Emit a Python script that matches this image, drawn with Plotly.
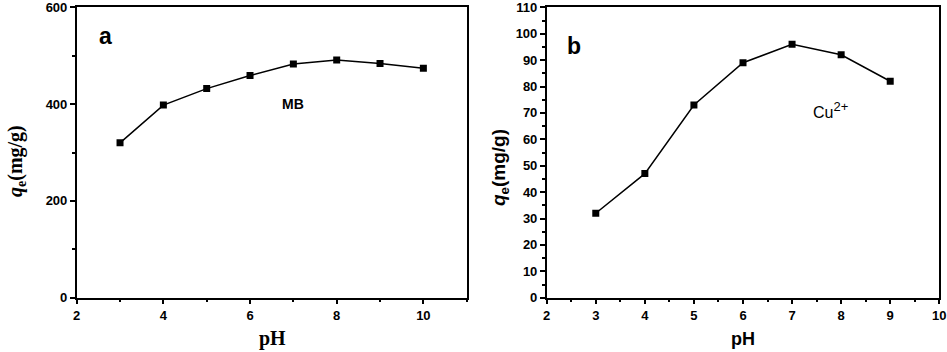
import plotly.graph_objects as go

ph_a = [3, 4, 5, 6, 7, 8, 9, 10]
qe_mb = [320, 398, 432, 459, 483, 491, 484, 474]
ph_b = [3, 4, 5, 6, 7, 8, 9]
qe_cu = [32, 47, 73, 89, 96, 92, 82]

W, H = 947, 352
fig = go.Figure()
fig.add_trace(go.Scatter(x=ph_a, y=qe_mb, mode="lines+markers", xaxis="x", yaxis="y",
                         line=dict(color="black", width=1.5),
                         marker=dict(symbol="square", size=7, color="black"), showlegend=False))
fig.add_trace(go.Scatter(x=ph_b, y=qe_cu, mode="lines+markers", xaxis="x2", yaxis="y2",
                         line=dict(color="black", width=1.5),
                         marker=dict(symbol="square", size=7, color="black"), showlegend=False))

tickfont = dict(family="Liberation Sans, Arial", size=13, color="black")
common = dict(showline=True, linecolor="black", linewidth=1.5, mirror=True, ticks="outside",
              ticklen=5, tickwidth=1.5, tickcolor="black", showgrid=False, zeroline=False,
              tickfont=tickfont, automargin=False, ticklabeloverflow="allow",
              tickprefix="<b>", ticksuffix="</b>")
mn = dict(ticks="outside", ticklen=3, tickwidth=1.5, tickcolor="black")

ytop = 1 - 7.3 / H
ybot = 1 - 297.7 / H
fig.update_layout(
    width=W, height=H, margin=dict(l=0, r=0, t=0, b=0),
    paper_bgcolor="white", plot_bgcolor="white",
    xaxis=dict(domain=[76.7 / W, 466.7 / W], range=[2, 11], dtick=2, tick0=2,
               minor=dict(dtick=1, **mn), anchor="y", **common),
    yaxis=dict(domain=[ybot, ytop], range=[0, 600.001], dtick=200,
               minor=dict(dtick=100, **mn), anchor="x", **common),
    xaxis2=dict(domain=[546.7 / W, 939.3 / W], range=[2, 10.0001], dtick=1, tick0=2,
                minor=dict(dtick=0.5, **mn), anchor="y2", **common),
    yaxis2=dict(domain=[ybot, ytop], range=[0, 110.0001], dtick=10,
                minor=dict(dtick=5, **mn), anchor="x2", **common),
)

serif = "Liberation Serif, Times New Roman"
sans = "Liberation Sans, Arial"
ann = [
    dict(text="<b>a</b>", x=105, y=36, font=dict(family=sans, size=23)),
    dict(text="<b>MB</b>", x=293, y=104, font=dict(family=sans, size=14)),
    dict(text="<b>b</b>", x=574, y=46, font=dict(family=sans, size=23)),
    dict(text="Cu<sup><span style='font-size:13px'>2+</span></sup>", x=830, y=110,
         font=dict(family=sans, size=16)),
    dict(text="<b>pH</b>", x=272, y=338, font=dict(family=serif, size=20)),
    dict(text="<b>pH</b>", x=743, y=339, font=dict(family=sans, size=18)),
    dict(text="<b><i>q</i><sub>e</sub>(mg/g)</b>", x=16, y=161, textangle=-90,
         font=dict(family=serif, size=20)),
    dict(text="<b><i>q</i><sub>e</sub>(mg/g)</b>", x=500, y=167, textangle=-90,
         font=dict(family=sans, size=19)),
]
for a in ann:
    a.update(xref="paper", yref="paper", showarrow=False, xanchor="center", yanchor="middle")
    a["font"]["color"] = "black"
    a["x"] = a["x"] / W
    a["y"] = 1 - a["y"] / H
fig.update_layout(annotations=ann)

fig.write_html("out.html")
